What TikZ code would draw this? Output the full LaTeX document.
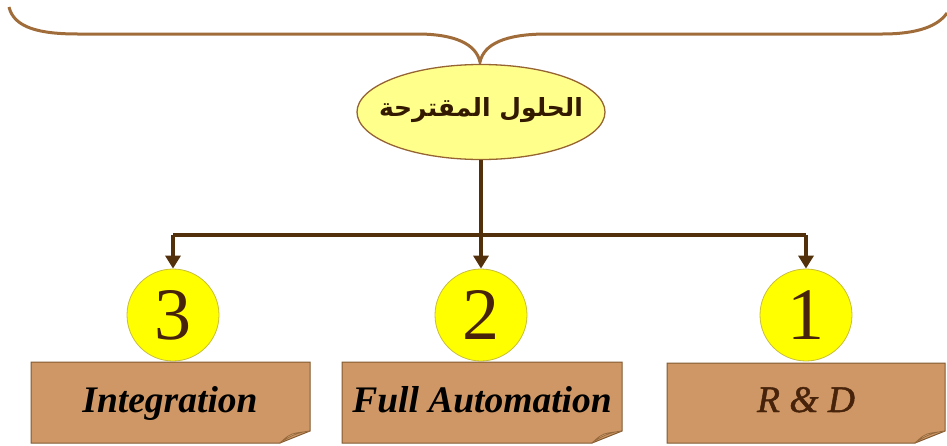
\documentclass[tikz,border=0pt]{standalone}
\usepackage{fontspec}
\setmainfont{Liberation Serif}
\newfontfamily\arabicfont[Script=Arabic]{DejaVu Sans}
\newfontfamily\semiitalic[FakeBold=1.2]{Liberation Serif Italic}
\TeXXeTstate=1
\usetikzlibrary{arrows.meta,shapes.geometric}
\definecolor{bracecol}{RGB}{160,108,58}
\definecolor{ellfill}{RGB}{255,255,140}
\definecolor{ellline}{RGB}{150,100,50}
\definecolor{conn}{RGB}{82,48,12}
\definecolor{circfill}{RGB}{255,255,0}
\definecolor{circline}{RGB}{200,190,60}
\definecolor{boxfill}{RGB}{207,151,101}
\definecolor{boxline}{RGB}{130,90,50}
\definecolor{numcol}{RGB}{70,35,10}
\definecolor{arabcol}{RGB}{50,25,0}
\definecolor{flapfill}{RGB}{225,180,130}
\definecolor{flapdark}{RGB}{150,105,60}
\tikzset{
  numcirc/.style={circle, draw=circline, fill=circfill, line width=0.8pt, minimum size=92pt, inner sep=0pt,
    font=\fontsize{74}{74}\selectfont, text=numcol},
  boxtext/.style={font=\fontsize{37.5}{37.5}\selectfont\bfseries\itshape, inner sep=0pt, anchor=base},
  conn/.style={draw=conn, line width=3.5pt},
  connarrow/.style={conn, -{Triangle[length=13pt,width=15pt]}},
  paperbox/.style={fill=boxfill, draw=boxline, line width=1pt},
  flap/.style={fill=flapfill, draw=flapdark, line width=0.8pt}
}
\newcommand{\paper}[4]{% x1 y1 x2 y2
  \path[paperbox] (#1,#2) -- (#3,#2) -- (#3,#4-12) -- (#3-30,#4) -- (#1,#4) -- cycle;
  \path[flap] (#3-30,#4) .. controls (#3-24,#4-6) and (#3-20,#4-9) .. (#3-14,#4-10) -- (#3,#4-12) .. controls (#3-12,#4-11) and (#3-22,#4-6) .. (#3-30,#4) -- cycle;
}
\begin{document}
\begin{tikzpicture}[x=1pt,y=-1pt]
\useasboundingbox (0,0) rectangle (947,445);
% brace
\draw[bracecol, line width=3pt] (9,7) .. controls (14,28) and (40,34) .. (78,34) -- (417,34)
   .. controls (455,34) and (476,44) .. (480,62)
   .. controls (484,44) and (505,34) .. (547,34) -- (882,34)
   .. controls (918,34) and (938,26) .. (947,13);
% ellipse
\node[ellipse, draw=ellline, fill=ellfill, line width=1.3pt, minimum width=248pt, minimum height=95pt, inner sep=0pt] (top) at (481,112) {};
\node[inner sep=0pt, text=arabcol] (toptext) at (481,110)
  {\arabicfont\bfseries\fontsize{25}{25}\selectfont\beginR الحلول المقترحة\endR};
% circles
\node[numcirc] (c3) at (173,315) {3};
\node[numcirc] (c2) at (481,315) {2};
\node[numcirc] (c1) at (806,315) {1};
% connectors
\coordinate (hub) at (481,235);
\coordinate (hl) at (173,235);
\coordinate (hr) at (806,235);
\draw[conn] (top.south) -- (hub);
\draw[conn] (hl) -- (hr);
\draw[connarrow] (hl) -- (c3.north);
\draw[connarrow] (hub) -- (c2.north);
\draw[connarrow] (hr) -- (c1.north);
% boxes
\paper{31}{362}{310}{443}
\paper{342}{362}{622}{443}
\paper{667}{363}{945}{443}
\node[boxtext] (b3) at (170,412) {Integration};
\node[boxtext] (b2) at (482,412) {Full Automation};
\node[boxtext, text=numcol, font=\fontsize{37.5}{37.5}\selectfont\semiitalic] (b1) at (806,412) {R \& D};
\end{tikzpicture}
\end{document}
